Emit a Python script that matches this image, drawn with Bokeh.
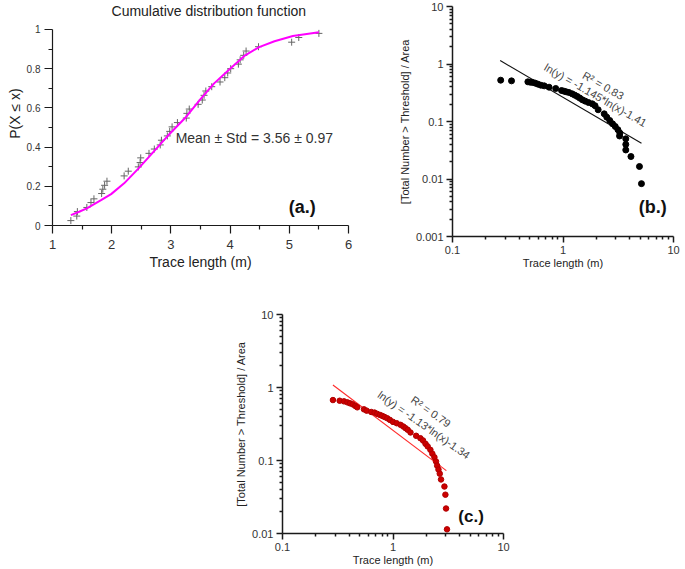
from bokeh.plotting import figure
from bokeh.models import Range1d, FixedTicker, Label, Spacer
from bokeh.layouts import row, column
from bokeh.embed import file_html
from bokeh.resources import INLINE

FONT = "Liberation Sans"

# ---------------- (a.) empirical CDF ----------------
a_x = [1.31, 1.41, 1.42, 1.58, 1.65, 1.70, 1.83, 1.85, 1.88, 1.92,
       2.21, 2.28, 2.45, 2.48, 2.49, 2.63, 2.72, 2.82, 2.84, 2.94,
       2.98, 3.02, 3.11, 3.26, 3.27, 3.31, 3.46, 3.53, 3.56, 3.59,
       3.69, 3.83, 3.91, 3.96, 4.01, 4.14, 4.17, 4.23, 4.27, 4.48,
       5.04, 5.16, 5.50]
a_p = [0.025, 0.048, 0.071, 0.092, 0.117, 0.136, 0.163, 0.185, 0.205, 0.226,
       0.253, 0.277, 0.299, 0.321, 0.345, 0.368, 0.390, 0.411, 0.435, 0.457,
       0.480, 0.503, 0.525, 0.548, 0.572, 0.594, 0.618, 0.640, 0.664, 0.686,
       0.708, 0.732, 0.754, 0.778, 0.800, 0.823, 0.845, 0.868, 0.890, 0.912,
       0.935, 0.959, 0.980]
a_fit_x = [1.31, 1.45, 1.58, 1.82, 1.99, 2.21, 2.45, 2.66, 2.94, 3.26,
           3.50, 3.73, 4.00, 4.24, 4.49, 4.75, 5.06, 5.50]
a_fit_p = [0.053, 0.070, 0.087, 0.129, 0.160, 0.215, 0.290, 0.360, 0.455, 0.555,
           0.645, 0.725, 0.800, 0.865, 0.910, 0.940, 0.967, 0.986]
a_xticks = [1, 2, 3, 4, 5, 6]
a_xminor = [1.5, 2.5, 3.5, 4.5, 5.5]
a_yticks = [0, 0.2, 0.4, 0.6, 0.8, 1]
a_yminor = [0.1, 0.3, 0.5, 0.7, 0.9]
a_ylabels = ["0", "0.2", "0.4", "0.6", "0.8", "1"]

# ---------------- (b.) power-law plot ----------------
b_x = [0.273, 0.342, 0.481, 0.505, 0.532, 0.562, 0.594, 0.631, 0.676, 0.748,
       0.859, 0.970, 1.02, 1.07, 1.13, 1.21, 1.28, 1.35, 1.42, 1.50,
       1.59, 1.70, 1.84, 1.95, 2.08, 2.36, 2.49, 2.65, 2.81, 2.97,
       3.14, 3.27, 3.25, 3.70, 3.70, 3.70, 4.12, 4.92, 5.13]
b_y = [0.523, 0.509, 0.490, 0.483, 0.477, 0.464, 0.446, 0.428, 0.417, 0.395,
       0.375, 0.346, 0.337, 0.328, 0.320, 0.303, 0.287, 0.272, 0.255, 0.238,
       0.226, 0.214, 0.203, 0.188, 0.160, 0.136, 0.119, 0.104, 0.091, 0.082,
       0.072, 0.063, 0.056, 0.050, 0.040, 0.032, 0.0246, 0.0165, 0.0083]
b_fit_x = [0.27, 5.13]
b_fit_y = [1.15, 0.042]
b_xticks = [0.1, 1, 10]
b_yticks = [0.001, 0.01, 0.1, 1, 10]
b_xlabels = ["0.1", "1", "10"]
b_ylabels = ["0.001", "0.01", "0.1", "1", "10"]

# ---------------- (c.) power-law plot ----------------
c_x = [0.286, 0.329, 0.360, 0.386, 0.408, 0.432, 0.456, 0.475, 0.546, 0.577,
       0.635, 0.681, 0.720, 0.762, 0.800, 0.839, 0.887, 0.937, 1.00, 1.08,
       1.17, 1.24, 1.30, 1.36, 1.44, 1.62, 1.77, 1.87, 1.97, 2.06,
       2.18, 2.27, 2.37, 2.45, 2.51, 2.58, 2.65, 2.72, 2.92, 2.98,
       3.02, 3.08]
c_y = [0.673, 0.659, 0.646, 0.626, 0.607, 0.588, 0.558, 0.535, 0.502, 0.482,
       0.462, 0.453, 0.435, 0.421, 0.408, 0.395, 0.379, 0.360, 0.338, 0.324,
       0.308, 0.292, 0.277, 0.263, 0.242, 0.218, 0.202, 0.188, 0.169, 0.156,
       0.140, 0.124, 0.111, 0.097, 0.085, 0.075, 0.066, 0.055, 0.044, 0.034,
       0.022, 0.0114]
c_fit_x = [0.286, 3.04]
c_fit_y = [1.08, 0.0727]
c_xticks = [0.1, 1, 10]
c_yticks = [0.01, 0.1, 1, 10]
c_xlabels = ["0.1", "1", "10"]
c_ylabels = ["0.01", "0.1", "1", "10"]

log_minor = [0.0002, 0.0003, 0.0004, 0.0005, 0.0006, 0.0007, 0.0008, 0.0009,
             0.002, 0.003, 0.004, 0.005, 0.006, 0.007, 0.008, 0.009,
             0.02, 0.03, 0.04, 0.05, 0.06, 0.07, 0.08, 0.09,
             0.2, 0.3, 0.4, 0.5, 0.6, 0.7, 0.8, 0.9,
             2, 3, 4, 5, 6, 7, 8, 9]


def base_style(p, lw, tick_out, minor_out):
    p.outline_line_color = None
    p.grid.visible = False
    p.background_fill_color = "white"
    p.border_fill_color = "white"
    for ax in (p.xaxis, p.yaxis):
        ax.axis_line_color = "#1a1a1a"
        ax.axis_line_width = lw
        ax.major_tick_line_color = "#1a1a1a"
        ax.minor_tick_line_color = "#1a1a1a"
        ax.major_tick_line_width = lw
        ax.minor_tick_line_width = lw
        ax.major_tick_in = 0
        ax.major_tick_out = tick_out
        ax.minor_tick_in = 0
        ax.minor_tick_out = minor_out
        ax.major_label_text_font = FONT
        ax.major_label_text_color = "#333333"
        ax.axis_label_text_font = FONT
        ax.axis_label_text_font_style = "normal"
        ax.axis_label_text_color = "#222222"


# ---- figure (a.)  (y range has head-room for the title; the axis itself stops at 1)
pa = figure(width=395, height=285, x_range=Range1d(1, 6), y_range=Range1d(0, 1.1426),
            output_backend="svg", toolbar_location=None,
            min_border_left=52, min_border_right=47, min_border_top=1, min_border_bottom=60)
pa.title = None
base_style(pa, 1.2, 8, 4)
pa.yaxis.bounds = (0, 1)
pa.xaxis.ticker = FixedTicker(ticks=a_xticks, minor_ticks=a_xminor)
pa.yaxis.ticker = FixedTicker(ticks=a_yticks, minor_ticks=a_yminor)
pa.yaxis.major_label_overrides = {t: s for t, s in zip(a_yticks, a_ylabels)}
pa.xaxis.major_label_text_font_size = "13px"
pa.yaxis.major_label_text_font_size = "10px"
pa.xaxis.major_label_standoff = 6
pa.yaxis.major_label_standoff = 4
pa.xaxis.axis_label = "Trace length (m)"
pa.yaxis.axis_label = "P(X \u2264 x)"
pa.xaxis.axis_label_text_font_size = "14px"
pa.yaxis.axis_label_text_font_size = "14px"
pa.xaxis.axis_label_standoff = 2
pa.yaxis.axis_label_standoff = 1
pa.scatter(a_x, a_p, marker="cross", size=7, line_color="#666666", line_width=1)
pa.line(a_fit_x, a_fit_p, line_color="#ff00ff", line_width=2)
pa.add_layout(Label(x=3.64, y=1.095, text="Cumulative distribution function",
                    text_font=FONT, text_font_size="14px", text_color="#222222",
                    text_align="center", text_baseline="alphabetic"))
pa.add_layout(Label(x=3.08, y=0.445, text="Mean \u00b1 Std = 3.56 \u00b1 0.97",
                    text_font=FONT, text_font_size="14px", text_color="#333333",
                    text_align="left", text_baseline="middle"))
pa.add_layout(Label(x=4.99, y=0.093, text="(a.)", text_font=FONT, text_font_size="18px",
                    text_font_style="bold", text_color="#111111",
                    text_align="left", text_baseline="middle"))

# ---- figure (b.)
pb = figure(width=290, height=285, x_axis_type="log", y_axis_type="log",
            x_range=Range1d(0.1, 10), y_range=Range1d(0.001, 10),
            output_backend="svg", toolbar_location=None,
            min_border_left=53, min_border_right=12, min_border_top=6, min_border_bottom=49)
pb.title = None
base_style(pb, 1.5, 6, 3)
pb.xaxis.ticker = FixedTicker(ticks=b_xticks, minor_ticks=log_minor)
pb.yaxis.ticker = FixedTicker(ticks=b_yticks, minor_ticks=log_minor)
pb.xaxis.major_label_overrides = {t: s for t, s in zip(b_xticks, b_xlabels)}
pb.yaxis.major_label_overrides = {t: s for t, s in zip(b_yticks, b_ylabels)}
for ax in (pb.xaxis, pb.yaxis):
    ax.major_label_text_font_size = "11px"
    ax.axis_label_text_font_size = "11px"
    ax.major_label_standoff = 3
pb.xaxis.axis_label_standoff = 0
pb.yaxis.axis_label_standoff = 2
pb.xaxis.axis_label = "Trace length (m)"
pb.yaxis.axis_label = "[Total Number > Threshold] / Area"
pb.line(b_fit_x, b_fit_y, line_color="#111111", line_width=1.1)
pb.scatter(b_x, b_y, marker="circle", size=6, fill_color="#000000", line_color="#000000")
pb.add_layout(Label(x=2.31, y=0.423, text="R\u00b2 = 0.83", angle=-0.52,
                    text_font=FONT, text_font_size="11px", text_color="#444444",
                    text_align="center", text_baseline="middle"))
pb.add_layout(Label(x=1.97, y=0.289, text="ln(y) = -1.145*ln(x)-1.41", angle=-0.52,
                    text_font=FONT, text_font_size="11px", text_color="#444444",
                    text_align="center", text_baseline="middle"))
pb.add_layout(Label(x=4.85, y=0.0032, text="(b.)", text_font=FONT, text_font_size="18px",
                    text_font_style="bold", text_color="#111111",
                    text_align="left", text_baseline="middle"))

# ---- figure (c.)
pc = figure(width=288, height=283, x_axis_type="log", y_axis_type="log",
            x_range=Range1d(0.1, 10), y_range=Range1d(0.01, 10),
            output_backend="svg", toolbar_location=None,
            min_border_left=50, min_border_right=17, min_border_top=29, min_border_bottom=34)
pc.title = None
base_style(pc, 1.5, 6, 3)
pc.xaxis.ticker = FixedTicker(ticks=c_xticks, minor_ticks=log_minor)
pc.yaxis.ticker = FixedTicker(ticks=c_yticks, minor_ticks=log_minor)
pc.xaxis.major_label_overrides = {t: s for t, s in zip(c_xticks, c_xlabels)}
pc.yaxis.major_label_overrides = {t: s for t, s in zip(c_yticks, c_ylabels)}
for ax in (pc.xaxis, pc.yaxis):
    ax.major_label_text_font_size = "11px"
    ax.axis_label_text_font_size = "11px"
    ax.major_label_standoff = 3
pc.xaxis.axis_label_standoff = 0
pc.yaxis.axis_label_standoff = 2
pc.xaxis.axis_label = "Trace length (m)"
pc.yaxis.axis_label = "[Total Number > Threshold] / Area"
pc.line(c_fit_x, c_fit_y, line_color="#ff2a2a", line_width=1.1)
pc.scatter(c_x, c_y, marker="circle", size=5.5, fill_color="#cc0000", line_color="#b00000")
pc.add_layout(Label(x=2.21, y=0.467, text="R\u00b2 = 0.79", angle=-0.61,
                    text_font=FONT, text_font_size="11px", text_color="#444444",
                    text_align="center", text_baseline="middle"))
pc.add_layout(Label(x=1.91, y=0.308, text="ln(y) = -1.13*ln(x)-1.34", angle=-0.61,
                    text_font=FONT, text_font_size="11px", text_color="#444444",
                    text_align="center", text_baseline="middle"))
pc.add_layout(Label(x=3.90, y=0.0171, text="(c.)", text_font=FONT, text_font_size="17px",
                    text_font_style="bold", text_color="#111111",
                    text_align="left", text_baseline="middle"))

# separate containers so that Bokeh does not align the plot frames of (a.) and (b.)
layout = column(row(column(pa), column(pb)),
                row(Spacer(width=232, height=283), column(pc)))

with open("out.html", "w") as f:
    f.write(file_html(layout, INLINE))
